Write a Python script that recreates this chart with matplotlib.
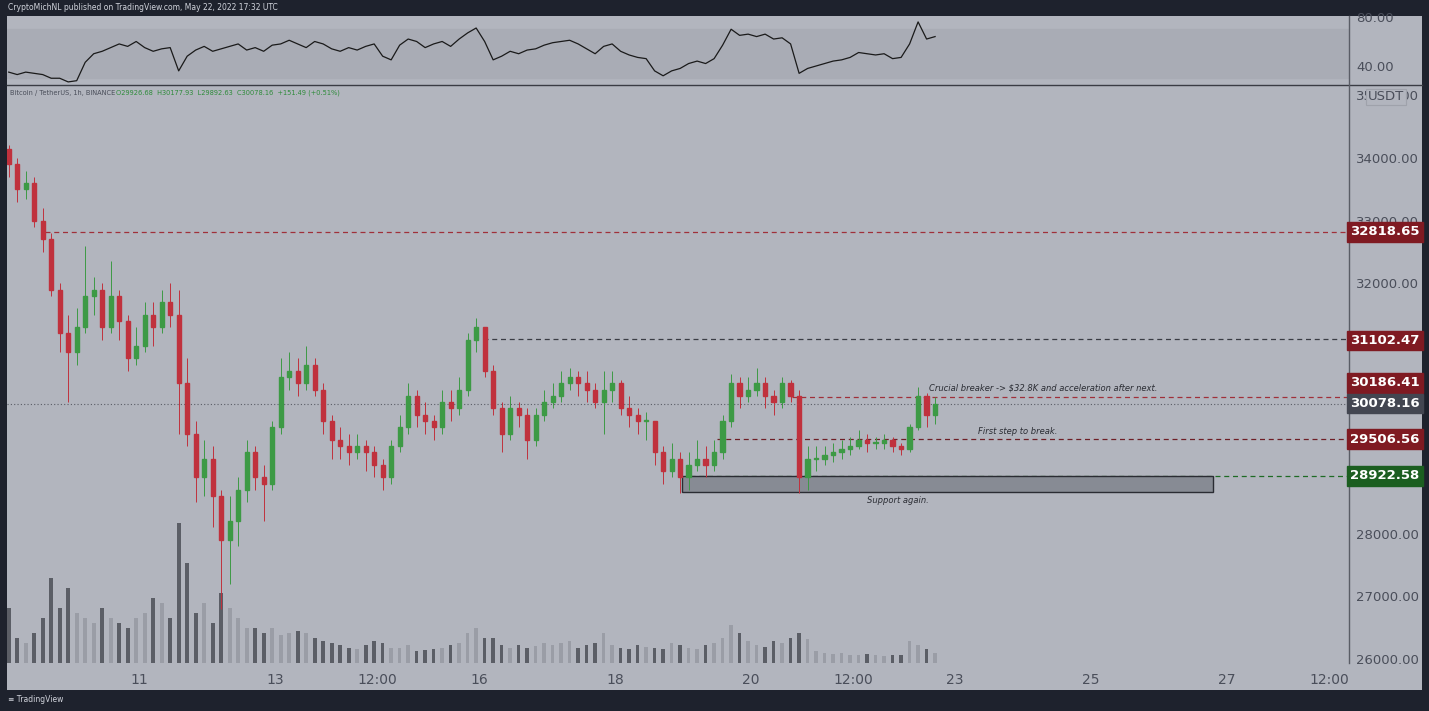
import matplotlib
matplotlib.use("Agg")
import matplotlib.pyplot as plt
from matplotlib.patches import Rectangle
import numpy as np

closes = [33900,33500,33600,33000,32700,31900,31200,30900,31300,31800,31900,31300,31800,31400,30800,31000,31500,31300,31700,31500,
          30400,29600,28900,29200,28600,27900,28200,28700,29300,28900,28800,29700,30500,30600,30400,30700,30300,29800,29500,29400,
          29300,29400,29300,29100,28900,29400,29700,30200,29900,29800,29700,30100,30000,30300,31100,31300,30600,30000,29600,30000,
          29900,29500,29900,30100,30200,30400,30500,30400,30300,30100,30300,30400,30000,29900,29800,29800,29300,29000,29200,28900,
          29100,29200,29100,29300,29800,30400,30200,30300,30400,30200,30100,30400,30200,28900,29200,29200,29250,29300,29350,29400,
          29500,29450,29450,29500,29400,29350,29700,30200,29900,30078.16]
highs = [34200,34000,33800,33700,33200,32800,32000,31500,31600,32600,32100,32000,32350,31900,31500,31300,31700,31700,31900,32000,
         31900,30800,29800,29500,29400,28700,28600,28900,29500,29400,29100,29800,30800,30900,30800,31000,30800,30400,29900,29700,
         29600,29600,29500,29400,29200,29500,29900,30400,30300,30100,29900,30300,30300,30500,31200,31450,31300,30700,30100,30200,
         30100,30000,30000,30300,30400,30600,30650,30600,30600,30400,30600,30600,30450,30200,30000,29950,29800,29400,29450,29300,
         29300,29500,29400,29500,29900,30550,30500,30500,30650,30500,30300,30500,30450,30300,29400,29400,29400,29450,29500,29550,
         29650,29600,29550,29600,29550,29450,29750,30350,30250,30180]
lows = [33700,33300,33350,32900,32500,31800,30900,30100,30700,31200,31500,31100,31200,31100,30600,30700,30900,31000,31200,31300,
        29600,29400,28500,28600,28100,26800,27200,27800,28500,28700,28200,28700,29600,30300,30200,30300,30200,29600,29200,29200,
        29100,29200,29000,28900,28700,28800,29300,29600,29700,29600,29500,29600,29800,29900,30200,30900,30500,29900,29300,29500,
        29700,29200,29400,29800,30000,30100,30300,30200,30100,30000,29600,30100,29900,29700,29600,29500,29100,28800,28900,28650,
        28700,29000,28900,29000,29200,29700,30000,30100,30200,30000,29900,30000,30100,28650,28700,29000,29100,29150,29200,29250,
        29350,29300,29350,29350,29300,29250,29300,29650,29700,29750]
volumes = [55,25,20,30,45,85,55,75,50,45,40,55,45,40,35,45,50,65,60,45,140,100,50,60,40,70,55,45,35,35,30,35,28,30,32,30,25,22,20,18,
           15,14,18,22,20,15,15,18,12,13,14,15,18,20,30,35,25,25,18,15,18,15,17,20,18,20,22,15,18,20,30,18,15,14,18,16,15,14,20,18,
           15,14,18,20,25,38,30,22,18,16,22,20,25,30,24,12,10,9,10,8,8,9,8,7,8,8,22,18,14,10]
rsi = [35,33,35,34,33,30,30,27,28,43,50,52,55,58,56,60,55,52,54,55,36,48,53,56,52,54,56,58,53,55,52,57,58,61,58,55,60,58,54,52,
       55,53,56,58,48,45,57,62,60,55,58,60,56,62,67,71,60,45,48,52,50,53,54,57,59,60,61,58,54,50,56,58,52,49,47,46,36,32,36,38,
       42,44,42,46,57,70,65,66,64,66,62,63,58,34,38,40,42,44,45,47,51,50,49,50,46,47,58,76,62,64]

levels = [32818.65, 31102.47, 30186.41, 29506.56, 28922.58]
last_price = 30078.16
price_ticks = [26000,27000,28000,29000,30000,31000,32000,33000,34000,35000]
xtick_hours = [48,96,132,168,216,264,300,336,384,432,468]
xtick_labels = ["11","13","12:00","16","18","20","12:00","23","25","27","12:00"]

W, H = 1429, 711
BG = "#1e222d"; PANEL = "#b2b5be"; GREEN = "#3d9a45"; RED = "#c0313d"; TXT = "#4a4e5a"
fig = plt.figure(figsize=(W/100, H/100), dpi=100, facecolor=BG)
def fax(x0, y0, x1, y1):
    return fig.add_axes([x0/W, 1-y1/H, (x1-x0)/W, (y1-y0)/H])

bgax = fax(7, 16, 1422, 690); bgax.set_facecolor(PANEL); bgax.set_xticks([]); bgax.set_yticks([])
for s in bgax.spines.values(): s.set_visible(False)

hours = np.arange(len(closes))*3 + 2
opens = [34150] + closes[:-1]
xlim = (1.4, 475.1)

# RSI panel
rax = fax(7, 16, 1349, 84)
rax.set_facecolor(PANEL)
rax.axhspan(30, 70, color="#a9acb5", zorder=0)
rax.plot(hours, rsi, color="#1a1a1a", lw=0.9)
rax.set_xlim(*xlim); rax.set_ylim(25.3, 80.8)
rax.set_xticks([]); rax.yaxis.tick_right()
rax.set_yticks([40, 80]); rax.set_yticklabels(["40.00", "80.00"])
rax.tick_params(axis="y", length=0, pad=5, labelsize=9.5, labelcolor=TXT)
for s in rax.spines.values(): s.set_visible(False)

# Price panel
ax = fax(7, 85, 1349, 663)
ax.set_facecolor(PANEL)
ax.set_xlim(*xlim); ax.set_ylim(25935, 35166)
vax = ax.twinx(); vax.set_ylim(0, 578); vax.set_axis_off()
for h, o, c, v in zip(hours, opens, closes, volumes):
    vax.bar(h, v, width=1.3, color="#9a9da6" if c >= o else "#5b5e66", zorder=1)
ax.set_zorder(vax.get_zorder()+1); ax.patch.set_visible(False)
for h, o, c, hi, lo in zip(hours, opens, closes, highs, lows):
    col = GREEN if c >= o else RED
    ax.vlines(h, lo, hi, color=col, lw=0.7, zorder=3)
    ax.add_patch(Rectangle((h-0.75, min(o, c)), 1.5, max(abs(c-o), 15), color=col, zorder=4))

ax.hlines(levels[0], 14.8, xlim[1], color="#a0303a", ls=(0, (4, 3)), lw=0.9)
ax.hlines(levels[1], 169.5, xlim[1], color="#3a3c44", ls=(0, (4, 3)), lw=0.9)
ax.hlines(levels[2], 278.5, xlim[1], color="#a0303a", ls=(0, (4, 3)), lw=0.9)
ax.hlines(levels[3], 252, xlim[1], color="#6e1e26", ls=(0, (4, 3)), lw=0.9)
ax.hlines(levels[4], 242.5, xlim[1], color="#1e6b25", ls=(0, (4, 3)), lw=0.9)
ax.axhline(last_price, color="#5a5d66", ls=(0, (1, 2)), lw=0.8)
ax.add_patch(Rectangle((239.7, 28666), 187.3, levels[4]-28666, facecolor="#878b94", edgecolor="#2a2c33", lw=1.0, zorder=2))
ax.text(367, 30280, "Crucial breaker -> $32.8K and acceleration after next.", fontsize=6, style="italic", color="#2a2c33", ha="center")
ax.text(358, 29600, "First step to break.", fontsize=6, style="italic", color="#2a2c33", ha="center")
ax.text(316, 28490, "Support again.", fontsize=6, style="italic", color="#2a2c33", ha="center")

ax.yaxis.tick_right(); ax.set_yticks(price_ticks)
ax.set_yticklabels([f"{p:.2f}" for p in price_ticks])
ax.tick_params(axis="y", length=0, pad=5, labelsize=9.5, labelcolor=TXT)
ax.set_xticks(xtick_hours); ax.set_xticklabels(xtick_labels)
ax.tick_params(axis="x", length=0, pad=7, labelsize=10, labelcolor=TXT)
for s in ax.spines.values(): s.set_visible(False)

# separators
fig.add_artist(plt.Line2D([7/W, 1422/W], [1-84.5/H]*2, color="#3a3c44", lw=1))
fig.add_artist(plt.Line2D([1349/W]*2, [1-16/H, 1-663/H], color="#5a5d66", lw=1))

# price labels on right
def tag(p, txt, col):
    y = 158 + (34000-p)*0.0626
    fig.text(1385/W, 1-y/H, txt, color="white", fontsize=9.5, ha="center", va="center", fontweight="bold",
             bbox=dict(boxstyle="square,pad=0.25", fc=col, ec=col))
tag(levels[0], "32818.65", "#7f1a22")
tag(levels[1]-15, "31102.47", "#7f1a22")
tag(30410, "30186.41", "#7f1a22")
tag(last_price, "30078.16", "#434651")
tag(levels[3], "29506.56", "#7f1a22")
tag(levels[4], "28922.58", "#1b5e20")
fig.text(1386/W, 1-97/H, "USDT", fontsize=9.5, color=TXT, ha="center", va="center",
         bbox=dict(boxstyle="square,pad=0.15", fc=PANEL, ec="#9fa2ab", lw=0.8))

fig.text(8/W, 1-8/H, "CryptoMichNL published on TradingView.com, May 22, 2022 17:32 UTC", color="#d1d4dc", fontsize=5.5, va="center")
fig.text(10/W, 1-93/H, "Bitcoin / TetherUS, 1h, BINANCE", color=TXT, fontsize=4.8, va="center")
fig.text(116/W, 1-93/H, "O29926.68  H30177.93  L29892.63  C30078.16  +151.49 (+0.51%)", color="#2e8b3a", fontsize=4.8, va="center")
fig.text(8/W, 1-700/H, "\u2261 TradingView", color="#d1d4dc", fontsize=5.5, va="center")

fig.savefig("out.png", dpi=100, facecolor=BG)
